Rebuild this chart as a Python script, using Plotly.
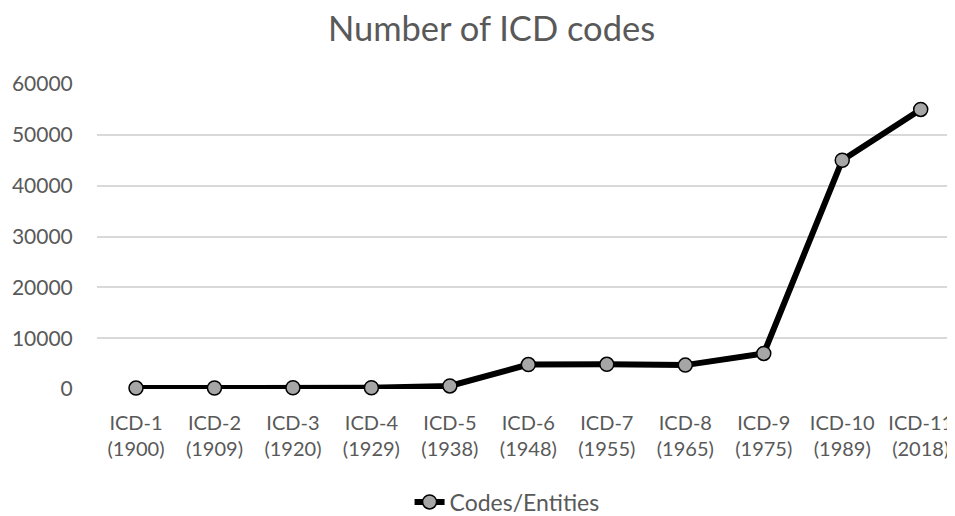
import plotly.graph_objects as go

categories = ["ICD-1<br>(1900)", "ICD-2<br>(1909)", "ICD-3<br>(1920)", "ICD-4<br>(1929)",
              "ICD-5<br>(1938)", "ICD-6<br>(1948)", "ICD-7<br>(1955)", "ICD-8<br>(1965)",
              "ICD-9<br>(1975)", "ICD-10<br>(1989)", "ICD-11<br>(2018)"]
codes = [180, 190, 250, 250, 600, 4800, 4850, 4700, 7000, 45000, 55000]
y_ticks = [0, 10000, 20000, 30000, 40000, 50000, 60000]

FONT = "Lato, 'Liberation Sans', Arial, sans-serif"
TXT = "#595959"

fig = go.Figure()
fig.add_trace(go.Scatter(
    x=list(range(len(categories))), y=codes, mode="lines+markers",
    name="Codes/Entities",
    line=dict(color="black", width=6),
    marker=dict(size=14, color="#a6a6a6", line=dict(color="black", width=1.5)),
    cliponaxis=False,
))

fig.update_layout(
    width=947, height=508,
    margin=dict(l=89, r=0, t=76, b=127, autoexpand=False),
    paper_bgcolor="white", plot_bgcolor="white",
    title=dict(text="Number of ICD codes", x=0.5106, xref="container", xanchor="center",
               y=1 - 21 / 508, yref="container", yanchor="middle",
               font=dict(family=FONT, size=34.5, color=TXT)),
    font=dict(family=FONT, color=TXT),
    showlegend=True,
    legend=dict(orientation="h", x=0.527, xref="container", xanchor="center",
                y=1 - 494 / 508, yref="container", yanchor="middle",
                font=dict(family=FONT, size=23, color=TXT)),
    xaxis=dict(range=[-0.497, 10.437], tickmode="array", tickvals=list(range(len(categories))),
               ticktext=categories, showgrid=False, zeroline=False, showline=False,
               tickfont=dict(family=FONT, size=20, color=TXT), ticks="outside",
               ticklen=16, tickcolor="rgba(0,0,0,0)", automargin=False),
    yaxis=dict(range=[0, 60000], tickmode="array", tickvals=y_ticks,
               ticktext=[str(v) for v in y_ticks], showgrid=True, gridcolor="#d9d9d9",
               gridwidth=2, zeroline=False, showline=False,
               tickfont=dict(family=FONT, size=21, color=TXT), ticks="outside",
               ticklen=19, tickcolor="rgba(0,0,0,0)", automargin=False),
)

fig.write_html("out.html")
